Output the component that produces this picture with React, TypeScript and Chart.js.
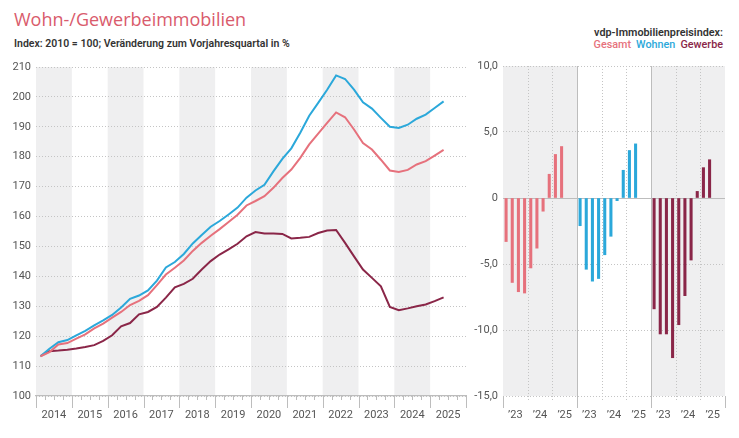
import React, { useEffect, useRef } from "react";
import { Chart, registerables } from "chart.js";

Chart.register(...registerables);

// ---------- DATA ----------
const yearLabels = ["2014", "2015", "2016", "2017", "2018", "2019", "2020", "2021", "2022", "2023", "2024", "2025"];
const firstYear = 2014;

// quarterly index values 2014Q1 .. 2025Q2 (2010 = 100)
const gesamtIndex = [
  113.3, 114.7, 117.2, 117.7, 119.2, 120.6, 122.6, 124.2, 126.2, 128.1, 130.4, 131.8,
  133.7, 137.1, 140.6, 142.9, 145.3, 148.5, 151.2, 153.6, 155.8, 158.2, 160.6, 163.7,
  165.2, 166.8, 169.6, 172.9, 175.7, 179.6, 184.1, 187.7, 191.3, 194.8, 193.2, 189.1,
  184.6, 182.4, 179.0, 175.4, 174.9, 175.6, 177.4, 178.5, 180.4, 182.3,
];
const wohnenIndex = [
  113.3, 115.8, 118.0, 118.7, 120.3, 121.8, 123.6, 125.3, 127.1, 129.6, 132.5, 133.6,
  135.3, 138.6, 143.0, 144.8, 147.5, 151.0, 153.8, 156.6, 158.5, 160.7, 163.0, 166.3,
  168.7, 170.6, 175.1, 179.3, 182.8, 188.0, 193.7, 198.0, 202.4, 207.2, 206.0, 202.4,
  198.2, 196.1, 193.0, 190.0, 189.6, 190.7, 192.7, 194.1, 196.3, 198.5,
];
const gewerbeIndex = [
  113.3, 115.0, 115.2, 115.5, 115.9, 116.4, 117.0, 118.4, 120.3, 123.3, 124.4, 127.3,
  128.1, 129.8, 132.9, 136.3, 137.5, 139.2, 142.3, 145.1, 147.3, 149.0, 150.9, 153.4,
  154.8, 154.3, 154.3, 154.2, 152.7, 152.9, 153.2, 154.5, 155.3, 155.5, 151.2, 146.7,
  142.3, 139.5, 136.7, 129.8, 128.7, 129.3, 130.0, 130.6, 131.7, 133.0,
];

// year-on-year change in %, 2023Q1 .. 2025Q2
const yoyYearLabels = ["\u201923", "\u201924", "\u201925"];
const gesamtYoY = [-3.3, -6.4, -7.1, -7.2, -5.3, -3.8, -1.0, 1.8, 3.3, 3.9];
const wohnenYoY = [-2.1, -5.4, -6.3, -6.1, -4.3, -2.9, -0.2, 2.1, 3.6, 4.1];
const gewerbeYoY = [-8.4, -10.3, -10.3, -12.1, -9.6, -7.4, -4.7, 0.5, 2.3, 2.9];

const seriesNames = ["Gesamt", "Wohnen", "Gewerbe"];

// ---------- STYLE ----------
const COLORS = ["#e6717c", "#2ba8da", "#8a2648"];
const TITLE_COLOR = "#d95b6c";
const BAND = "#efeff0";
const GRID = "#c4c4c4";
const AXIS = "#bdbdbd";
const TICK = "#555555";
const FONT = "Roboto, 'Open Sans', sans-serif";

const quarterX = (i: number) => firstYear + (i + 0.5) / 4;

export default function App() {
  const leftRef = useRef<HTMLCanvasElement | null>(null);
  const rightRef = useRef<HTMLCanvasElement | null>(null);

  useEffect(() => {
    const lastYear = firstYear + yearLabels.length;

    const leftPlugin = {
      id: "leftDeco",
      beforeDraw(chart: any) {
        const { ctx, chartArea } = chart;
        const x = chart.scales.x;
        ctx.save();
        ctx.fillStyle = BAND;
        for (let k = 0; k < yearLabels.length; k += 2) {
          const x0 = x.getPixelForValue(firstYear + k);
          const x1 = x.getPixelForValue(firstYear + k + 1);
          ctx.fillRect(x0, chartArea.top, x1 - x0, chartArea.bottom - chartArea.top);
        }
        ctx.restore();
      },
      afterDraw(chart: any) {
        const { ctx, chartArea } = chart;
        const x = chart.scales.x;
        ctx.save();
        ctx.strokeStyle = AXIS;
        ctx.lineWidth = 1;
        for (let y = firstYear; y <= lastYear; y++) {
          for (let q = 0; q < 4; q++) {
            const v = y + q / 4;
            if (v > lastYear) break;
            const px = Math.round(x.getPixelForValue(v)) + 0.5;
            const len = q === 0 ? 12 : 4;
            ctx.beginPath();
            ctx.moveTo(px, chartArea.bottom);
            ctx.lineTo(px, chartArea.bottom + len);
            ctx.stroke();
          }
        }
        ctx.restore();
      },
    };

    const left = new Chart(leftRef.current!, {
      type: "line",
      data: {
        datasets: [gesamtIndex, wohnenIndex, gewerbeIndex].map((arr, s) => ({
          label: seriesNames[s],
          data: arr.map((v, i) => ({ x: quarterX(i), y: v })),
          borderColor: COLORS[s],
          borderWidth: 2,
          pointRadius: 0,
          tension: 0,
          fill: false,
        })),
      },
      options: {
        responsive: false,
        animation: false,
        layout: { padding: { top: 17, right: 14, left: 0, bottom: 0 } },
        plugins: { legend: { display: false }, tooltip: { enabled: false } },
        scales: {
          x: {
            type: "linear",
            min: firstYear,
            max: lastYear,
            afterBuildTicks: (scale: any) => {
              scale.ticks = yearLabels.map((_, k) => ({ value: firstYear + k + 0.5 }));
            },
            afterFit: (scale: any) => {
              scale.height = 42;
            },
            grid: { display: false, drawTicks: false },
            border: { display: true, color: AXIS, width: 1.2 },
            ticks: {
              autoSkip: false,
              maxRotation: 0,
              padding: 13,
              color: TICK,
              font: { family: FONT, size: 11 },
              callback: (_v: any, idx: number) => yearLabels[idx],
            },
          },
          y: {
            min: 100,
            max: 210,
            afterFit: (scale: any) => {
              scale.width = 36;
            },
            grid: { color: GRID, lineWidth: 1, drawTicks: false },
            border: { display: false, dash: [1, 2] },
            ticks: {
              stepSize: 10,
              padding: 5,
              color: TICK,
              font: { family: FONT, size: 11 },
            },
          },
        },
      },
      plugins: [leftPlugin],
    } as any);

    // ---- right chart ----
    const slotsPerPanel = yoyYearLabels.length * 4;
    const totalSlots = slotsPerPanel * 3;

    const rightPlugin = {
      id: "rightDeco",
      beforeDraw(chart: any) {
        const { ctx, chartArea } = chart;
        const x = chart.scales.x;
        ctx.save();
        ctx.fillStyle = BAND;
        [0, 2].forEach((p) => {
          const x0 = x.getPixelForValue(p * slotsPerPanel);
          const x1 = x.getPixelForValue((p + 1) * slotsPerPanel);
          ctx.fillRect(x0, chartArea.top, x1 - x0, chartArea.bottom - chartArea.top);
        });
        ctx.restore();
      },
      beforeDatasetsDraw(chart: any) {
        const { ctx, chartArea } = chart;
        const x = chart.scales.x;
        const y = chart.scales.y;
        ctx.save();
        ctx.lineWidth = 1;
        // year separators (dotted)
        ctx.strokeStyle = GRID;
        ctx.setLineDash([1, 2]);
        for (let p = 0; p < 3; p++) {
          for (let k = 1; k < yoyYearLabels.length; k++) {
            const px = Math.round(x.getPixelForValue(p * slotsPerPanel + k * 4)) + 0.5;
            ctx.beginPath();
            ctx.moveTo(px, chartArea.top);
            ctx.lineTo(px, chartArea.bottom + 6);
            ctx.stroke();
          }
        }
        ctx.setLineDash([]);
        ctx.strokeStyle = AXIS;
        for (let p = 0; p <= 3; p++) {
          const px = Math.round(x.getPixelForValue(p * slotsPerPanel)) + 0.5;
          const full = p === 1 || p === 2;
          ctx.beginPath();
          ctx.moveTo(px, full ? chartArea.top : chartArea.bottom);
          ctx.lineTo(px, chartArea.bottom + 12);
          ctx.stroke();
        }
        // zero line
        const zy = Math.round(y.getPixelForValue(0)) + 0.5;
        ctx.beginPath();
        ctx.moveTo(chartArea.left, zy);
        ctx.lineTo(chartArea.right, zy);
        ctx.stroke();
        ctx.restore();
      },
    };

    const yearTicks: number[] = [];
    for (let p = 0; p < 3; p++) for (let k = 0; k < yoyYearLabels.length; k++) yearTicks.push(p * slotsPerPanel + k * 4 + 2);

    const right = new Chart(rightRef.current!, {
      type: "bar",
      data: {
        datasets: [gesamtYoY, wohnenYoY, gewerbeYoY].map((arr, s) => ({
          label: seriesNames[s],
          data: arr.map((v, i) => ({ x: s * slotsPerPanel + i + 0.5, y: v })),
          backgroundColor: COLORS[s],
          barThickness: 2.4,
          grouped: false,
        })),
      },
      options: {
        responsive: false,
        animation: false,
        layout: { padding: { top: 16, right: 14, left: 0, bottom: 0 } },
        plugins: { legend: { display: false }, tooltip: { enabled: false } },
        scales: {
          x: {
            type: "linear",
            offset: false,
            min: 0,
            max: totalSlots,
            afterBuildTicks: (scale: any) => {
              scale.ticks = yearTicks.map((v) => ({ value: v }));
            },
            afterFit: (scale: any) => {
              scale.height = 42;
            },
            grid: { display: false, drawTicks: false, offset: false },
            border: { display: false },
            ticks: {
              autoSkip: false,
              maxRotation: 0,
              padding: 13,
              color: TICK,
              font: { family: FONT, size: 11 },
              callback: (_v: any, idx: number) => yoyYearLabels[idx % yoyYearLabels.length],
            },
          },
          y: {
            min: -15,
            max: 10,
            afterFit: (scale: any) => {
              scale.width = 33;
            },
            grid: { color: GRID, lineWidth: 1, drawTicks: false },
            border: { display: false, dash: [1, 2] },
            ticks: {
              stepSize: 5,
              padding: 5,
              color: TICK,
              font: { family: FONT, size: 11 },
              callback: (v: any) => (v === 0 ? "0" : Number(v).toFixed(1).replace(".", ",")),
            },
          },
        },
      },
      plugins: [rightPlugin],
    } as any);

    return () => {
      left.destroy();
      right.destroy();
    };
  }, []);

  return (
    <div
      style={{
        position: "fixed",
        left: 0,
        top: 0,
        width: 739,
        height: 438,
        background: "#fff",
        overflow: "hidden",
        fontFamily: FONT,
      }}
    >
      <div style={{ position: "absolute", left: 14, top: 8, fontSize: 18, lineHeight: "22px", color: TITLE_COLOR, fontFamily: "'Open Sans', sans-serif" }}>
        Wohn-/Gewerbeimmobilien
      </div>
      <div style={{ position: "absolute", left: 14, top: 38, fontSize: 10.5, lineHeight: "12px", fontWeight: 600, color: "#333" }}>
        Index: 2010 = 100; Veränderung zum Vorjahresquartal in %
      </div>
      <div style={{ position: "absolute", right: 16, top: 27, fontSize: 10.8, lineHeight: "12px", fontWeight: 600, color: "#333", textAlign: "right" }}>
        vdp-Immobilienpreisindex:
      </div>
      <div style={{ position: "absolute", right: 16, top: 39, fontSize: 10.8, lineHeight: "12px", fontWeight: 500, textAlign: "right", whiteSpace: "nowrap" }}>
        <span style={{ color: COLORS[0] }}>{seriesNames[0]}</span>
        <span style={{ color: COLORS[1], marginLeft: 5 }}>{seriesNames[1]}</span>
        <span style={{ color: COLORS[2], marginLeft: 5 }}>{seriesNames[2]}</span>
      </div>
      <canvas ref={leftRef} width={480} height={388} style={{ position: "absolute", left: 0, top: 50, width: 480, height: 388 }} />
      <canvas ref={rightRef} width={269} height={388} style={{ position: "absolute", left: 470, top: 50, width: 269, height: 388 }} />
    </div>
  );
}
